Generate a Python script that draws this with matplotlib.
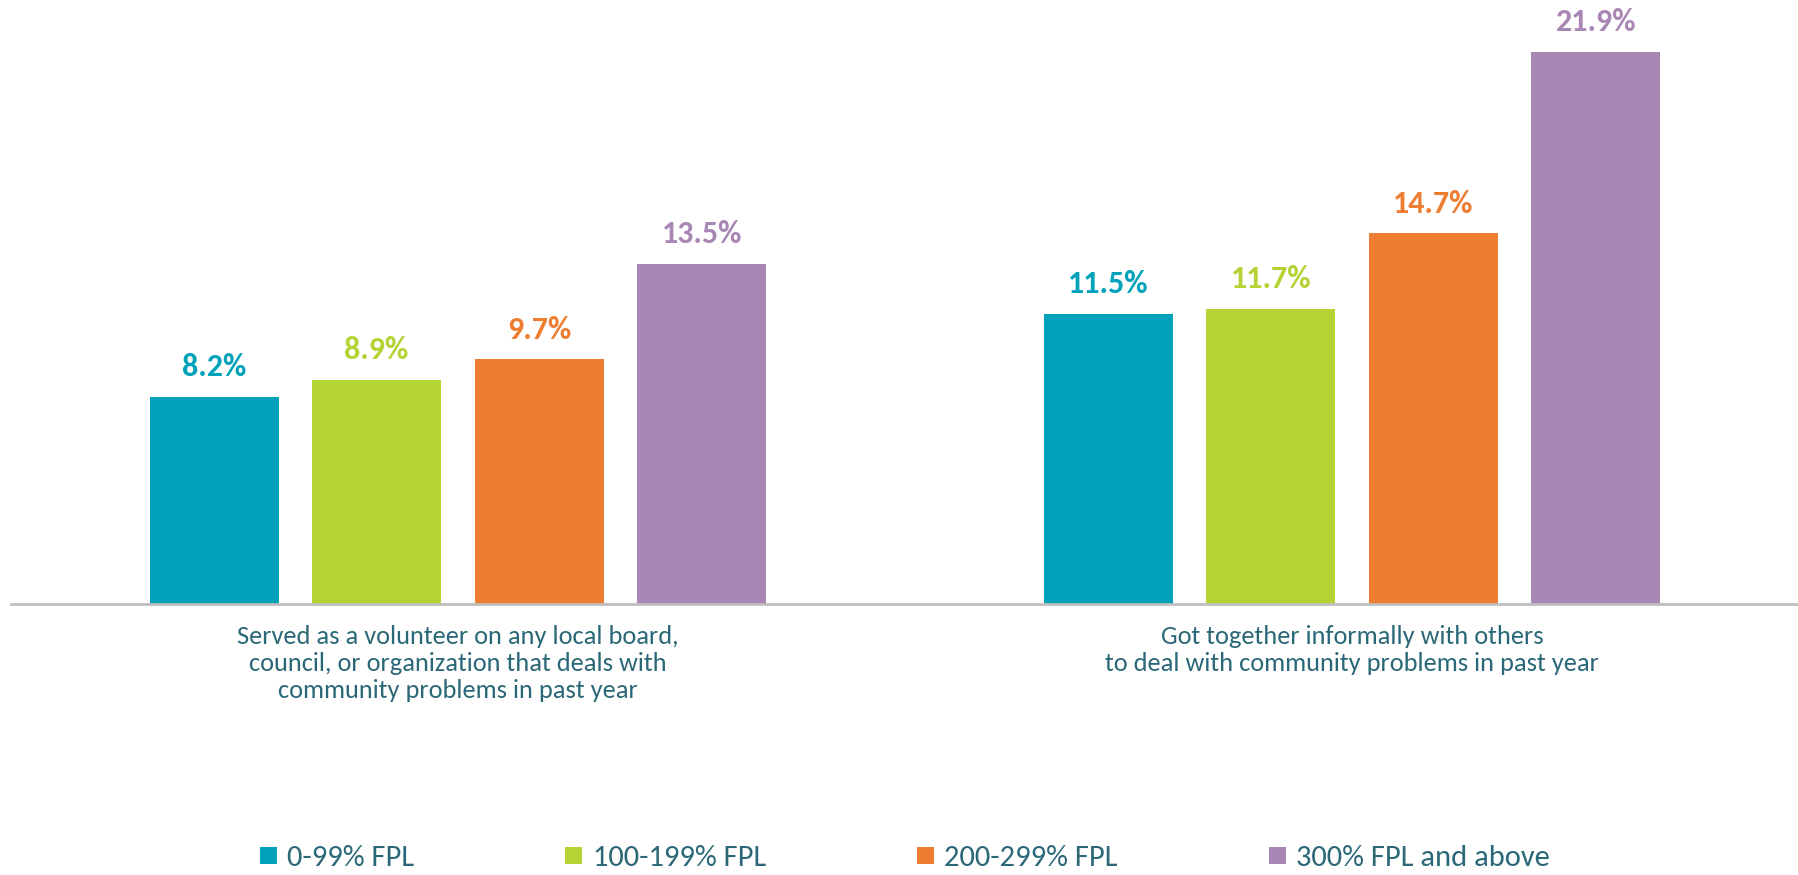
import matplotlib
matplotlib.use("Agg")
import matplotlib.pyplot as plt
import numpy as np
from matplotlib.patches import Patch

# --- Data ---
categories = [
    "Served as a volunteer on any local board,\ncouncil, or organization that deals with\ncommunity problems in past year",
    "Got together informally with others\nto deal with community problems in past year",
]
series_names = ["0-99% FPL", "100-199% FPL", "200-299% FPL", "300% FPL and above"]
values = {
    "0-99% FPL": [8.2, 11.5],
    "100-199% FPL": [8.9, 11.7],
    "200-299% FPL": [9.7, 14.7],
    "300% FPL and above": [13.5, 21.9],
}

colors = ["#00A2B9", "#B4D334", "#ED7D31", "#A987B4"]
text_color = "#2A6877"

plt.rcParams["font.family"] = ["Carlito", "DejaVu Sans"]

fig = plt.figure(figsize=(17.99, 8.75), dpi=100)
ax = fig.add_axes([0.006, 271 / 875, 0.994, 605 / 875])

# four bars per group, Excel-style gap
x = np.arange(len(categories))
step = 0.1818
width = 0.1443
for i, name in enumerate(series_names):
    offs = (i - 1.5) * step
    bars = ax.bar(x + offs, values[name], width=width, color=colors[i], zorder=2)
    for b, v in zip(bars, values[name]):
        ax.annotate(f"{v:.1f}%", (b.get_x() + b.get_width() / 2, v),
                    xytext=(0, 15), textcoords="offset points",
                    ha="center", va="baseline", fontsize=23, fontweight="bold",
                    color=colors[i])

ax.set_xlim(-0.5, 1.5)
ax.set_ylim(0, 24)
ax.set_xticks(x)
ax.set_xticklabels(categories, fontsize=19, color=text_color, linespacing=1.21)
ax.tick_params(axis="x", length=0, pad=15)
ax.set_yticks([])
for s in ["top", "right", "left"]:
    ax.spines[s].set_visible(False)
ax.spines["bottom"].set_color("#BFBFBF")
ax.spines["bottom"].set_linewidth(2)

handles = [Patch(facecolor=c) for c in colors]
fig.legend(handles, series_names, loc="lower center", ncol=4,
           bbox_to_anchor=(0.503, -0.013), frameon=False, fontsize=22,
           labelcolor=text_color, handlelength=0.56, handleheight=0.5,
           handletextpad=0.33, columnspacing=4.95, borderpad=0)

fig.savefig("out.png", dpi=100)
